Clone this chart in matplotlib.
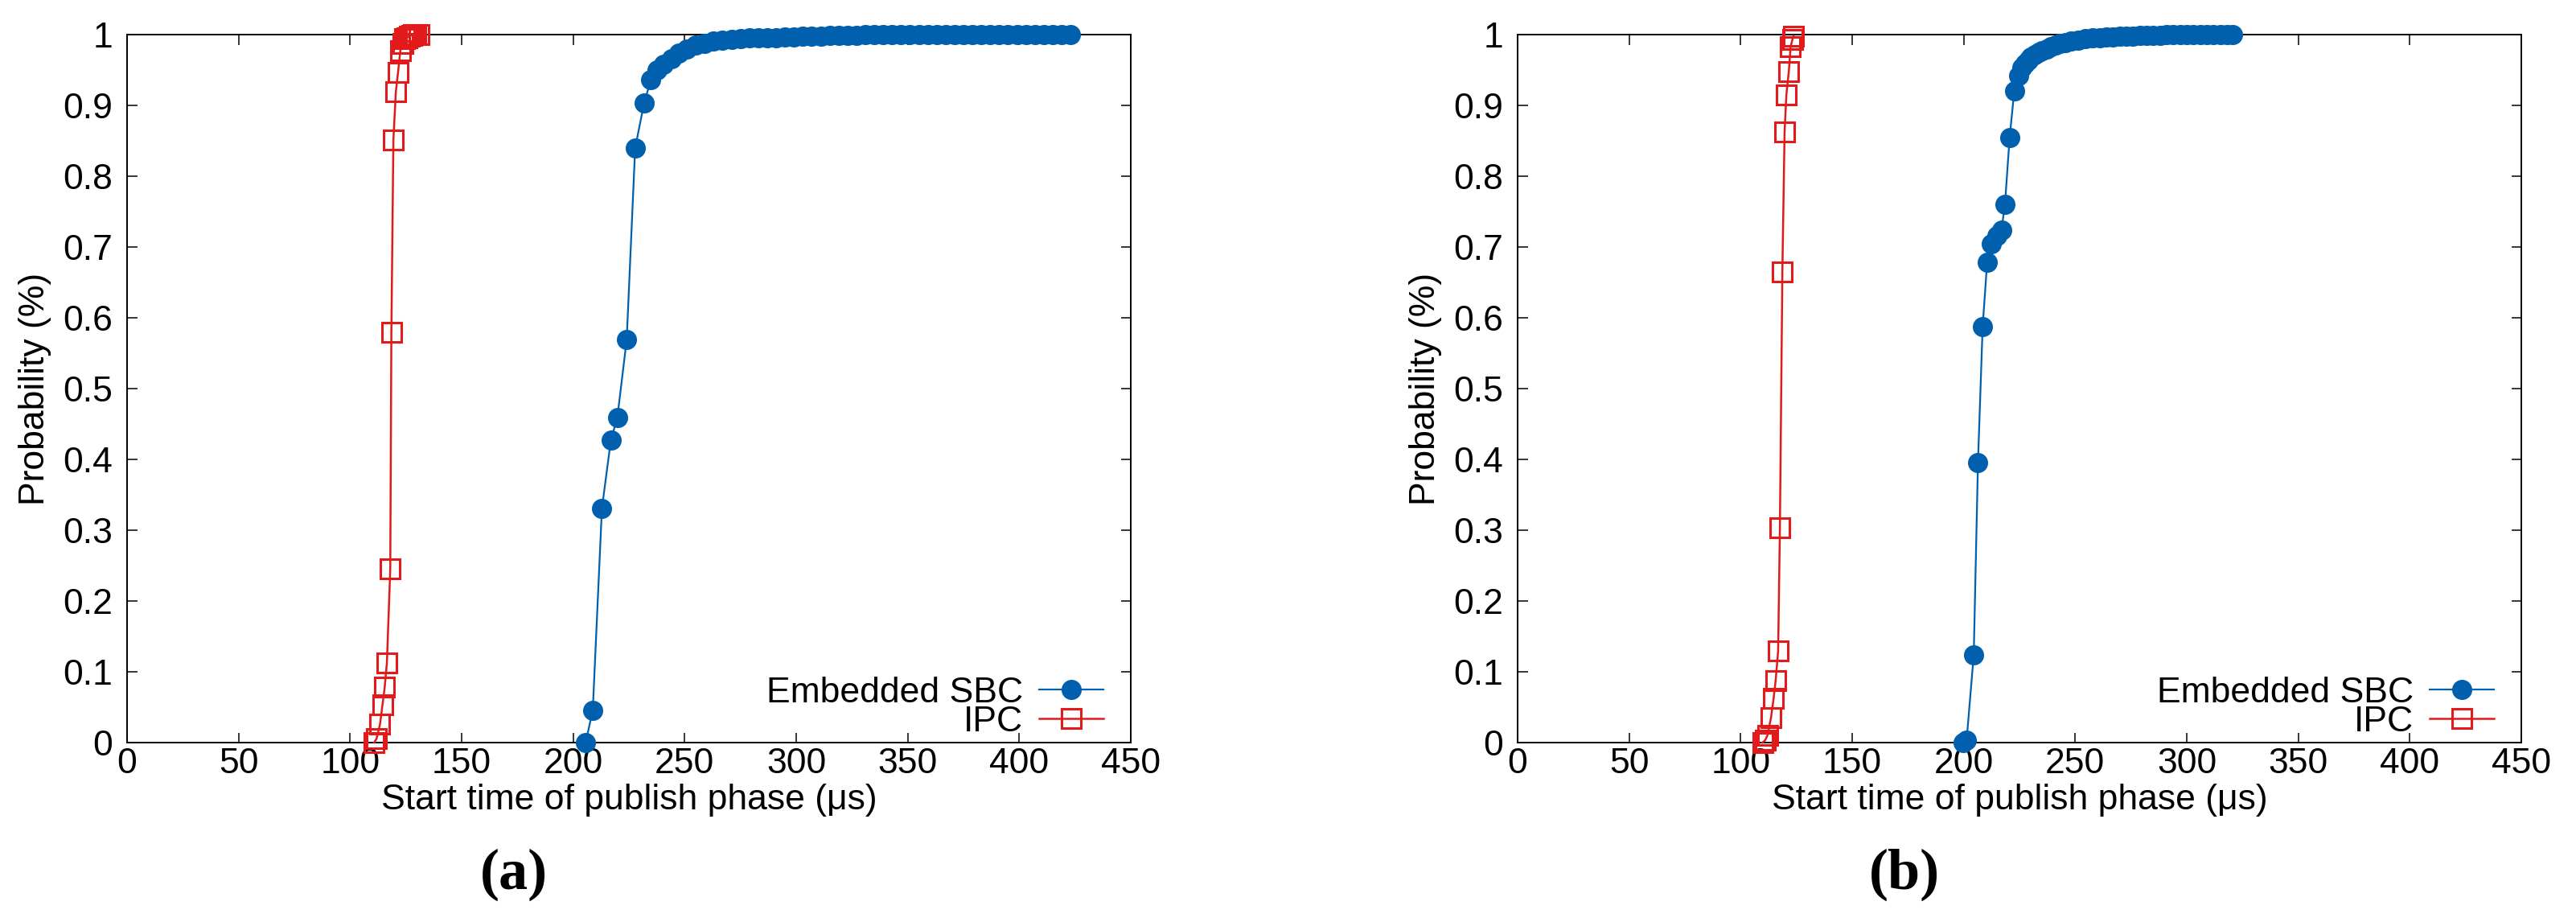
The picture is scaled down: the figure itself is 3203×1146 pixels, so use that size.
import matplotlib
matplotlib.use("Agg")
import matplotlib.pyplot as plt

plt.rcParams['font.family'] = ['Liberation Sans', 'DejaVu Sans']

# ---- data ----
# (a)
ipc_a_x = [110.8, 111.9, 113.4, 114.5, 115.5, 116.5, 118.0, 118.5, 119.4, 120.5,
           121.5, 122.5, 123.5, 124.5, 125.5, 126.5, 127.5, 128.5, 129.5, 130.8]
ipc_a_y = [0.0, 0.006, 0.026, 0.053, 0.078, 0.113, 0.245, 0.579, 0.851, 0.919,
           0.947, 0.977, 0.988, 0.994, 0.996, 0.998, 0.999, 1.0, 1.0, 1.0]

sbc_a_x = [205.6, 208.8, 212.9, 216.9, 219.8, 224.0, 227.8, 231.8, 234.8, 237.5,
           240.5, 244.0, 247.5, 251.0, 255.0, 259.0, 263.0, 267.0, 271.0, 275.0,
           279.0, 283.0, 287.0, 291.0, 295.0, 299.0, 303.0, 307.0, 311.0, 315.0,
           319.0, 323.0, 327.0, 331.0, 335.0, 339.0, 343.0, 347.0, 351.0, 355.0,
           359.0, 363.0, 367.0, 371.0, 375.0, 379.0, 383.0, 387.0, 391.0, 395.0,
           399.0, 403.0, 407.0, 411.0, 415.0, 419.0, 423.0]
sbc_a_y = [0.0, 0.046, 0.331, 0.427, 0.459, 0.569, 0.840, 0.903, 0.936, 0.950,
           0.958, 0.966, 0.974, 0.980, 0.985, 0.988, 0.991, 0.992, 0.993, 0.994,
           0.995, 0.995, 0.996, 0.996, 0.997, 0.997, 0.998, 0.998, 0.998, 0.999,
           0.999, 0.999, 0.999, 1.0, 1.0, 1.0, 1.0, 1.0, 1.0, 1.0,
           1.0, 1.0, 1.0, 1.0, 1.0, 1.0, 1.0, 1.0, 1.0, 1.0,
           1.0, 1.0, 1.0, 1.0, 1.0, 1.0, 1.0]

# (b)
ipc_b_x = [109.8, 110.9, 112.0, 113.6, 114.8, 115.7, 116.8, 117.6, 118.7, 119.7,
           120.5, 121.6, 122.4, 123.2, 123.7]
ipc_b_y = [0.0, 0.003, 0.010, 0.035, 0.063, 0.088, 0.129, 0.303, 0.665, 0.863,
           0.915, 0.948, 0.983, 0.993, 0.998]

sbc_b_x = [199.8, 201.3, 204.5, 206.4, 208.5, 210.5, 212.5, 215.0, 216.9, 218.5,
           220.6, 222.7, 224.6, 226.2, 227.6, 228.8, 230.2, 231.9, 233.5, 235.1,
           237.1, 239.2, 241.2, 243.2, 245.6, 248.0, 251.2, 254.5, 257.7, 260.9,
           264.0, 267.0, 270.0, 273.0, 276.0, 279.0, 282.0, 285.0, 288.0, 291.0,
           294.0, 297.0, 300.0, 303.0, 306.0, 309.0, 312.0, 315.0, 318.0, 320.5]
sbc_b_y = [0.0, 0.003, 0.124, 0.396, 0.588, 0.678, 0.705, 0.716, 0.724, 0.760,
           0.855, 0.921, 0.942, 0.953, 0.959, 0.964, 0.968, 0.972, 0.975, 0.977,
           0.980, 0.983, 0.985, 0.987, 0.989, 0.991, 0.992, 0.994, 0.995, 0.996,
           0.997, 0.997, 0.998, 0.998, 0.998, 0.999, 0.999, 0.999, 0.999, 1.0,
           1.0, 1.0, 1.0, 1.0, 1.0, 1.0, 1.0, 1.0, 1.0, 1.0]

panels = [("(a)", sbc_a_x, sbc_a_y, ipc_a_x, ipc_a_y),
          ("(b)", sbc_b_x, sbc_b_y, ipc_b_x, ipc_b_y)]

x_ticks = [0, 50, 100, 150, 200, 250, 300, 350, 400, 450]
y_ticks = [0, 0.1, 0.2, 0.3, 0.4, 0.5, 0.6, 0.7, 0.8, 0.9, 1]
y_ticklabels = ["0", "0.1", "0.2", "0.3", "0.4", "0.5", "0.6", "0.7", "0.8", "0.9", "1"]

blue = "#0060ad"
red = "#e31a1c"
fs = 32

W, H = 3203, 1146
fig = plt.figure(figsize=(W / 100, H / 100), dpi=100)

lefts = [158, 1887]
for left, (tag, sx, sy, ix, iy) in zip(lefts, panels):
    ax = fig.add_axes([left / W, 1 - 923 / H, 1248 / W, 880 / H])
    ax.plot(sx, sy, color=blue, lw=1.6, marker="o", ms=17, mfc=blue, mec=blue,
            label="Embedded SBC", clip_on=False, zorder=3)
    ax.plot(ix, iy, color=red, lw=1.8, marker="s", ms=17.5, mfc="none", mec=red,
            mew=2.2, label="IPC", clip_on=False, zorder=4)
    ax.set_xlim(0, 450)
    ax.set_ylim(0, 1)
    ax.set_xticks(x_ticks)
    ax.set_yticks(y_ticks)
    ax.set_yticklabels(y_ticklabels)
    ax.tick_params(direction="in", top=True, right=True, length=9, width=1.1,
                   labelsize=fs)
    ax.tick_params(axis="x", pad=4)
    ax.tick_params(axis="y", pad=13)
    for sp in ax.spines.values():
        sp.set_linewidth(1.4)
    ax.set_xlabel("Start time of publish phase (\u03bcs)", fontsize=fs)
    ax.xaxis.set_label_coords(0.5, -0.058)
    ax.set_ylabel("Probability (%)", fontsize=fs)
    ax.yaxis.set_label_coords(-0.075, 0.5)
    ax.legend(loc="lower right", bbox_to_anchor=(0.973, 0.006), markerfirst=False,
              frameon=False, fontsize=fs, handlelength=1.8, handletextpad=0.45,
              labelspacing=-0.12, borderpad=0, borderaxespad=0)
    fig.text((left + 624 - 143) / W, 1 - 1087 / H, tag, ha="center", va="center",
             fontsize=52, fontweight="bold", family="Liberation Serif")

fig.savefig("out.png", dpi=100)
